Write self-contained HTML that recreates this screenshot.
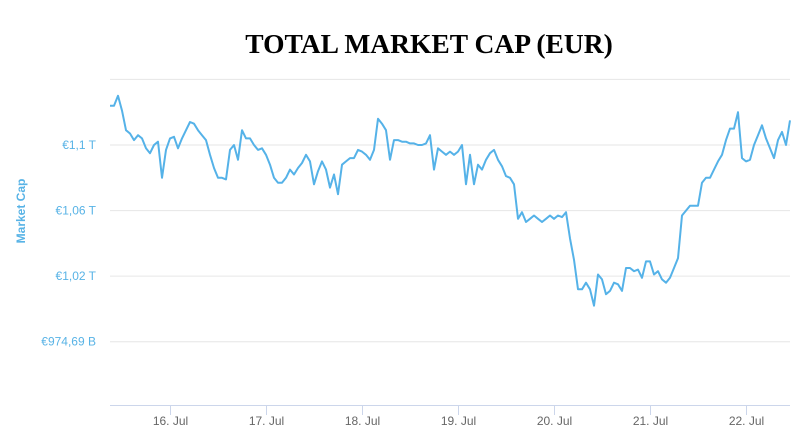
<!DOCTYPE html>
<html><head><meta charset="utf-8"><style>
body{margin:0;background:#fff;width:800px;height:445px;overflow:hidden}
svg{display:block}
</style></head><body>
<svg id="chart" width="800" height="445">
<text x="429" y="53" text-anchor="middle" font-family="Liberation Serif, serif" font-weight="bold" font-size="27.5" fill="#000">TOTAL MARKET CAP (EUR)</text>
<text transform="translate(25,211) rotate(-90)" text-anchor="middle" font-family="Liberation Sans, sans-serif" font-weight="bold" font-size="12" fill="#58b3e6">Market Cap</text>
<g id="grid"></g><g id="yt"></g><g id="xt"></g><g id="series"></g>
</svg>
<script>
const startDay = 15.377;      // 15 Jul ~09:00
const stepDay = 1/24;         // hourly
const values = [1124,1124,1130,1121,1109,1107,1103,1106,1104,1098,1095,1100,1102,1080,1097,1104,1105,1098,1104,1109,1114,1113,1109,1106,1103,1094,1086,1080,1080,1079,1097,1100,1091,1109,1104,1104,1100,1097,1098,1094,1088,1080,1077,1077,1080,1085,1082,1086,1089,1094,1090,1076,1084,1090,1085,1074,1082,1070,1088,1090,1092,1092,1097,1096,1094,1091,1097,1116,1113,1109,1091,1103,1103,1102,1102,1101,1101,1100,1100,1101,1106,1085,1098,1096,1094,1096,1094,1096,1100,1076,1094,1076,1088,1085,1091,1095,1097,1091,1087,1081,1080,1076,1055,1059,1053,1055,1057,1055,1053,1055,1057,1055,1057,1056,1059,1043,1030,1012,1012,1016,1012,1002,1021,1018,1009,1011,1016,1015,1011,1025,1025,1023,1024,1019,1029,1029,1021,1023,1018,1016,1019,1025,1031,1057,1060,1063,1063,1063,1077,1080,1080,1085,1090,1094,1103,1110,1110,1120,1092,1090,1091,1100,1106,1112,1104,1098,1092,1103,1108,1100,1115];
const yTicks = [980,1020,1060,1100,1140];
const yLabels = ['€974,69 B','€1,02 T','€1,06 T','€1,1 T',''];
const xTicks = [16,17,18,19,20,21,22];
const xLabels = ['16. Jul','17. Jul','18. Jul','19. Jul','20. Jul','21. Jul','22. Jul'];

const NS='http://www.w3.org/2000/svg';
const X0=110,X1=790,Y0=405;
const dMin=startDay,dMax=startDay+(values.length-1)*stepDay;
const xs=d=>X0+(d-dMin)/(dMax-dMin)*(X1-X0);
const ys=v=>145+(1100-v)/0.61;
function mk(t,a,p){const e=document.createElementNS(NS,t);for(const k in a)e.setAttribute(k,a[k]);p.appendChild(e);return e;}
const grid=document.getElementById('grid'),yt=document.getElementById('yt'),xt=document.getElementById('xt'),ser=document.getElementById('series');
yTicks.forEach((v,i)=>{
  const l=mk('line',{x1:X0,x2:X1,y1:ys(v),y2:ys(v),stroke:'#e6e6e6','stroke-width':1},grid);
  
  
  if(yLabels[i]){
    const t=mk('text',{x:96,y:ys(v)+4,'text-anchor':'end','font-family':'Liberation Sans, sans-serif','font-size':12,fill:'#58b3e6'},yt);
    t.textContent=yLabels[i];
    
    
  }
});
const ax=mk('line',{x1:X0,x2:X1,y1:Y0+0.5,y2:Y0+0.5,stroke:'#ccd6eb','stroke-width':1},xt);


xTicks.forEach((d,i)=>{
  const x=Math.round(xs(d))+0.5;
  const tk=mk('line',{x1:x,x2:x,y1:Y0,y2:Y0+10,stroke:'#ccd6eb'},xt);
  
  
  const t=mk('text',{x:x,y:425,'text-anchor':'middle','font-family':'Liberation Sans, sans-serif','font-size':12,fill:'#666'},xt);
  t.textContent=xLabels[i];
  
  
});
const pts=values.map((v,i)=>xs(startDay+i*stepDay).toFixed(1)+','+ys(v).toFixed(1)).join(' ');
const pl=mk('polyline',{points:pts,fill:'none',stroke:'#55b2e8','stroke-width':2,'stroke-linejoin':'round'},ser);


</script>
</body></html>
